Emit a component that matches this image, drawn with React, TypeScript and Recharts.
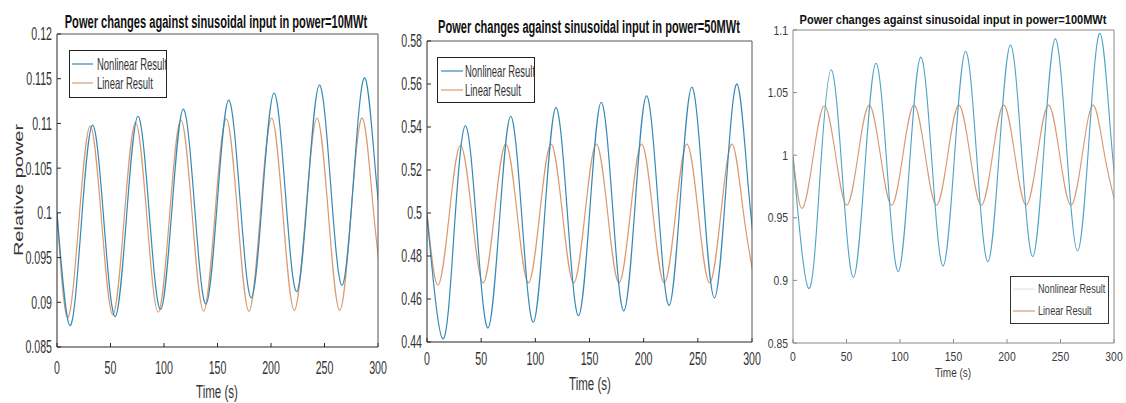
import React from 'react';
import { LineChart, Line, XAxis, YAxis, Legend } from 'recharts';

const W = 1126;
const H = 403;
const FONT = "'Liberation Sans', Arial, Helvetica, sans-serif";

const timeTicks = [0, 50, 100, 150, 200, 250, 300];
const seriesNames = ['Nonlinear Result', 'Linear Result'];
const xLabel = 'Time (s)';
const yLabel = 'Relative power';

// ---------- power = 10 MWt ----------
const p10Title = 'Power changes against sinusoidal input in power=10MWt';
const p10YTicks = [0.085, 0.09, 0.095, 0.1, 0.105, 0.11, 0.115, 0.12];
const p10NonlinearTime = [0, 12, 22.6, 33.2, 43.8, 54.4, 65, 75.6, 86.2, 96.8, 107.4, 118, 128.6, 139.2, 149.8, 160.4, 171, 181.6, 192.2, 202.8, 213.4, 224, 234.6, 245.2, 255.8, 266.4, 277, 287.6, 298.2, 308.8];
const p10NonlinearValue = [0.1, 0.0874, 0.0986, 0.1098, 0.0991, 0.0884, 0.0996, 0.1108, 0.1, 0.0892, 0.1004, 0.1116, 0.1007, 0.0898, 0.1012, 0.1126, 0.1016, 0.0905, 0.102, 0.1134, 0.1023, 0.0912, 0.1028, 0.1143, 0.1031, 0.0919, 0.1035, 0.1151, 0.1039, 0.0926];
const p10LinearTime = [0, 9.8, 20.4, 31, 41.6, 52.2, 62.8, 73.4, 84, 94.6, 105.2, 115.8, 126.4, 137, 147.6, 158.2, 168.8, 179.4, 190, 200.6, 211.2, 221.8, 232.4, 243, 253.6, 264.2, 274.8, 285.4, 296, 306.6];
const p10LinearValue = [0.1, 0.0883, 0.099, 0.1097, 0.0992, 0.0886, 0.0994, 0.1101, 0.0995, 0.0889, 0.0997, 0.1104, 0.0997, 0.089, 0.0998, 0.1105, 0.0998, 0.089, 0.0998, 0.1106, 0.0998, 0.0891, 0.0999, 0.1106, 0.0999, 0.0891, 0.0999, 0.1106, 0.0999, 0.0891];

// ---------- power = 50 MWt ----------
const p50Title = 'Power changes against sinusoidal input in power=50MWt';
const p50YTicks = [0.44, 0.46, 0.48, 0.5, 0.52, 0.54, 0.56, 0.58];
const p50NonlinearTime = [0, 14.5, 25, 35.4, 45.9, 56.3, 66.8, 77.2, 87.7, 98.1, 108.6, 119, 129.5, 139.9, 150.4, 160.8, 171.3, 181.7, 192.2, 202.6, 213.1, 223.5, 234, 244.4, 254.9, 265.3, 275.8, 286.2, 296.7, 307.1];
const p50NonlinearValue = [0.499, 0.4415, 0.491, 0.5405, 0.4935, 0.4465, 0.4958, 0.545, 0.4971, 0.4492, 0.4991, 0.549, 0.5006, 0.4522, 0.5019, 0.5515, 0.503, 0.4545, 0.5045, 0.5545, 0.5058, 0.457, 0.5078, 0.5585, 0.5095, 0.4605, 0.5103, 0.56, 0.5115, 0.463];
const p50LinearTime = [0, 10, 20.5, 30.9, 41.4, 51.8, 62.3, 72.7, 83.2, 93.6, 104.1, 114.5, 125, 135.4, 145.9, 156.3, 166.8, 177.2, 187.7, 198.1, 208.6, 219, 229.5, 239.9, 250.4, 260.8, 271.3, 281.7, 292.2, 302.6];
const p50LinearValue = [0.5, 0.4665, 0.499, 0.5315, 0.4995, 0.4675, 0.4998, 0.532, 0.4998, 0.4675, 0.4998, 0.532, 0.4998, 0.4675, 0.4998, 0.532, 0.4998, 0.4675, 0.4998, 0.532, 0.4998, 0.4675, 0.4998, 0.532, 0.4998, 0.4675, 0.4998, 0.532, 0.4998, 0.4675];

// ---------- power = 100 MWt ----------
const p100Title = 'Power changes against sinusoidal input in power=100MWt';
const p100YTicks = [0.85, 0.9, 0.95, 1, 1.05, 1.1];
const p100NonlinearTime = [0, 14.6, 25.1, 35.6, 46, 56.5, 67, 77.5, 87.9, 98.4, 108.9, 119.4, 129.8, 140.3, 150.8, 161.3, 171.7, 182.2, 192.7, 203.2, 213.6, 224.1, 234.6, 245.1, 255.5, 266, 276.5, 287, 297.4, 307.9];
const p100NonlinearValue = [0.998, 0.8937, 0.981, 1.0683, 0.9854, 0.9024, 0.988, 1.0735, 0.9903, 0.9071, 0.9927, 1.0783, 0.995, 0.9116, 0.9973, 1.083, 0.999, 0.915, 1.0015, 1.088, 1.0035, 0.919, 1.006, 1.0929, 1.0082, 0.9235, 1.0104, 1.0973, 1.0122, 0.927];
const p100LinearTime = [0, 8.4, 18.9, 29.3, 39.8, 50.3, 60.8, 71.2, 81.7, 92.2, 102.7, 113.1, 123.6, 134.1, 144.6, 155, 165.5, 176, 186.5, 196.9, 207.4, 217.9, 228.4, 238.8, 249.3, 259.8, 270.3, 280.7, 291.2, 301.7];
const p100LinearValue = [1.0, 0.9575, 0.999, 1.0395, 1.0, 0.96, 1.0, 1.04, 1.0, 0.96, 1.0, 1.04, 1.0, 0.96, 1.0, 1.04, 1.0, 0.96, 1.0, 1.04, 1.0, 0.96, 1.0, 1.04, 1.0, 0.96, 1.0, 1.04, 1.0, 0.96];

type Pt = { t: number; v: number };
const toPoints = (ts: number[], vs: number[]): Pt[] => ts.map((t, i) => ({ t, v: vs[i] }));

type Cfg = {
  title: string;
  nonlinear: Pt[];
  linear: Pt[];
  yDomain: [number, number];
  yTicks: number[];
  box: { left: number; top: number; right: number; bottom: number };
  tickFont: number;
  tickScale: number;
  xTickBase: number;
  axisColor: string;
  boxColor: string;
  textColor: string;
  blue: string;
  orange: string;
  legendBlue: string;
  strokeWidth: number;
  titleCfg: { x: number; y: number; font: number; scale: number };
  xLabelCfg: { x: number; y: number; font: number; scale: number };
  yLabelCfg?: { x: number; y: number; font: number; scale: number };
  legend: {
    left: number; top: number; w: number; h: number;
    rows: [number, number]; lx0: number; lx1: number; tx: number;
    font: number; scale: number; border: string;
  };
};

const panels: Cfg[] = [
  {
    title: p10Title,
    nonlinear: toPoints(p10NonlinearTime, p10NonlinearValue),
    linear: toPoints(p10LinearTime, p10LinearValue),
    yDomain: [0.085, 0.12],
    yTicks: p10YTicks,
    box: { left: 57, top: 34, right: 378, bottom: 347 },
    tickFont: 18,
    tickScale: 0.59,
    xTickBase: 27,
    axisColor: '#262626',
    boxColor: '#555555',
    textColor: '#333333',
    blue: '#3589b6',
    orange: '#da9a72',
    legendBlue: '#3589b6',
    strokeWidth: 1.2,
    titleCfg: { x: 216, y: 28, font: 19, scale: 0.585 },
    xLabelCfg: { x: 217, y: 398, font: 18, scale: 0.64 },
    yLabelCfg: { x: 19, y: 190, font: 20, scale: 0.62 },
    legend: { left: 69, top: 50, w: 98, h: 48, rows: [14, 33], lx0: 3, lx1: 24, tx: 28, font: 16.5, scale: 0.575, border: '#222222' },
  },
  {
    title: p50Title,
    nonlinear: toPoints(p50NonlinearTime, p50NonlinearValue),
    linear: toPoints(p50LinearTime, p50LinearValue),
    yDomain: [0.44, 0.58],
    yTicks: p50YTicks,
    box: { left: 427, top: 41, right: 752, bottom: 342 },
    tickFont: 18,
    tickScale: 0.59,
    xTickBase: 23,
    axisColor: '#262626',
    boxColor: '#555555',
    textColor: '#333333',
    blue: '#3589b6',
    orange: '#da9a72',
    legendBlue: '#3589b6',
    strokeWidth: 1.2,
    titleCfg: { x: 589, y: 33, font: 19, scale: 0.583 },
    xLabelCfg: { x: 590, y: 390, font: 18, scale: 0.64 },
    legend: { left: 437, top: 57, w: 98, h: 46, rows: [14, 33], lx0: 4, lx1: 26, tx: 28, font: 16.5, scale: 0.575, border: '#222222' },
  },
  {
    title: p100Title,
    nonlinear: toPoints(p100NonlinearTime, p100NonlinearValue),
    linear: toPoints(p100LinearTime, p100LinearValue),
    yDomain: [0.85, 1.1],
    yTicks: p100YTicks,
    box: { left: 793, top: 30, right: 1114, bottom: 343 },
    tickFont: 12.5,
    tickScale: 0.83,
    xTickBase: 18,
    axisColor: '#8a8a8a',
    boxColor: '#8a8a8a',
    textColor: '#3a3a3a',
    blue: '#4ea3c6',
    orange: '#d69a76',
    legendBlue: '#d3ebf2',
    strokeWidth: 1.1,
    titleCfg: { x: 953, y: 24, font: 13, scale: 0.85 },
    xLabelCfg: { x: 953, y: 377, font: 12.5, scale: 0.8 },
    legend: { left: 1010, top: 276, w: 99, h: 48, rows: [13, 35], lx0: 3, lx1: 25, tx: 28, font: 12, scale: 0.76, border: '#333333' },
  },
];

const YW = 50;
const XH = 30;

function makeXTick(c: Cfg) {
  return (p: any) => (
    <text
      transform={`translate(${p.x},${p.y + c.xTickBase}) scale(${c.tickScale},1)`}
      textAnchor="middle"
      fontSize={c.tickFont}
      fontFamily={FONT}
      fill={c.textColor}
    >
      {p.payload.value}
    </text>
  );
}

function makeYTick(c: Cfg) {
  return (p: any) => (
    <text
      transform={`translate(${p.x - 5},${p.y + c.tickFont * 0.36}) scale(${c.tickScale},1)`}
      textAnchor="end"
      fontSize={c.tickFont}
      fontFamily={FONT}
      fill={c.textColor}
    >
      {p.payload.value}
    </text>
  );
}

function LegendBox({ c }: { c: Cfg }) {
  const L = c.legend;
  const colors = [c.legendBlue, c.orange];
  return (
    <svg width={L.w} height={L.h} style={{ display: 'block' }}>
      <rect x={0.5} y={0.5} width={L.w - 1} height={L.h - 1} fill="#ffffff" stroke={L.border} strokeWidth={1} />
      {seriesNames.map((name, i) => (
        <g key={name}>
          <line x1={L.lx0} x2={L.lx1} y1={L.rows[i]} y2={L.rows[i]} stroke={colors[i]} strokeWidth={1.2} />
          <text
            transform={`translate(${L.tx},${L.rows[i] + L.font * 0.36}) scale(${L.scale},1)`}
            fontSize={L.font}
            fontFamily={FONT}
            fill={c.textColor}
          >
            {name}
          </text>
        </g>
      ))}
    </svg>
  );
}

function Panel({ c }: { c: Cfg }) {
  const b = c.box;
  return (
    <div style={{ position: 'absolute', left: 0, top: 0 }}>
      <LineChart
        width={W}
        height={H}
        margin={{ top: b.top - 1, left: b.left - YW, right: W - b.right - 1, bottom: H - b.bottom - XH }}
      >
        <XAxis
          xAxisId="b"
          type="number"
          dataKey="t"
          domain={[0, 300]}
          ticks={timeTicks}
          allowDataOverflow
          interval={0}
          height={XH}
          tickSize={-4}
          tickMargin={4}
          axisLine={{ stroke: c.axisColor, strokeWidth: 1 }}
          tickLine={{ stroke: c.axisColor }}
          tick={makeXTick(c)}
        />
        <XAxis
          xAxisId="t"
          orientation="top"
          type="number"
          dataKey="t"
          domain={[0, 300]}
          ticks={timeTicks}
          allowDataOverflow
          interval={0}
          height={1}
          tickSize={-4}
          axisLine={{ stroke: c.boxColor, strokeWidth: 1 }}
          tickLine={{ stroke: c.boxColor }}
          tick={false}
        />
        <YAxis
          yAxisId="l"
          type="number"
          domain={c.yDomain}
          ticks={c.yTicks}
          allowDataOverflow
          interval={0}
          width={YW}
          tickSize={-4}
          tickMargin={4}
          axisLine={{ stroke: c.axisColor, strokeWidth: 1 }}
          tickLine={{ stroke: c.axisColor }}
          tick={makeYTick(c)}
        />
        <YAxis
          yAxisId="r"
          orientation="right"
          type="number"
          domain={c.yDomain}
          ticks={c.yTicks}
          allowDataOverflow
          interval={0}
          width={1}
          tickSize={-4}
          axisLine={{ stroke: c.boxColor, strokeWidth: 1 }}
          tickLine={{ stroke: c.boxColor }}
          tick={false}
        />
        <Line
          xAxisId="t"
          yAxisId="r"
          data={c.linear}
          dataKey="v"
          stroke="none"
          dot={false}
          activeDot={false}
          legendType="none"
          isAnimationActive={false}
        />
        <Line
          xAxisId="b"
          yAxisId="l"
          data={c.linear}
          dataKey="v"
          name={seriesNames[1]}
          type="natural"
          stroke={c.orange}
          strokeWidth={c.strokeWidth}
          dot={false}
          activeDot={false}
          isAnimationActive={false}
        />
        <Line
          xAxisId="b"
          yAxisId="l"
          data={c.nonlinear}
          dataKey="v"
          name={seriesNames[0]}
          type="natural"
          stroke={c.blue}
          strokeWidth={c.strokeWidth}
          dot={false}
          activeDot={false}
          isAnimationActive={false}
        />
        <Legend
          layout="horizontal"
          verticalAlign="middle"
          align="center"
          content={() => <LegendBox c={c} />}
          wrapperStyle={{ left: c.legend.left, top: c.legend.top, width: c.legend.w, height: c.legend.h }}
        />
      </LineChart>
    </div>
  );
}

function Labels() {
  return (
    <svg
      width={W}
      height={H}
      style={{ position: 'absolute', left: 0, top: 0, pointerEvents: 'none' }}
    >
      {panels.map((c, i) => (
        <g key={i}>
          <text
            transform={`translate(${c.titleCfg.x},${c.titleCfg.y}) scale(${c.titleCfg.scale},1)`}
            textAnchor="middle"
            fontSize={c.titleCfg.font}
            fontWeight="bold"
            fontFamily={FONT}
            fill="#111111"
          >
            {c.title}
          </text>
          <text
            transform={`translate(${c.xLabelCfg.x},${c.xLabelCfg.y}) scale(${c.xLabelCfg.scale},1)`}
            textAnchor="middle"
            fontSize={c.xLabelCfg.font}
            fontFamily={FONT}
            fill={c.textColor}
          >
            {xLabel}
          </text>
          {c.yLabelCfg && (
            <text
              transform={`translate(${c.yLabelCfg.x},${c.yLabelCfg.y}) scale(${c.yLabelCfg.scale},1) rotate(-90)`}
              textAnchor="middle"
              dy="0.35em"
              fontSize={c.yLabelCfg.font}
              fontFamily={FONT}
              fill={c.textColor}
            >
              {yLabel}
            </text>
          )}
        </g>
      ))}
    </svg>
  );
}

export default function App() {
  return (
    <div
      style={{
        position: 'fixed',
        left: 0,
        top: 0,
        width: W,
        height: H,
        background: '#ffffff',
        overflow: 'hidden',
      }}
    >
      {panels.map((c, i) => (
        <Panel key={i} c={c} />
      ))}
      <Labels />
    </div>
  );
}
